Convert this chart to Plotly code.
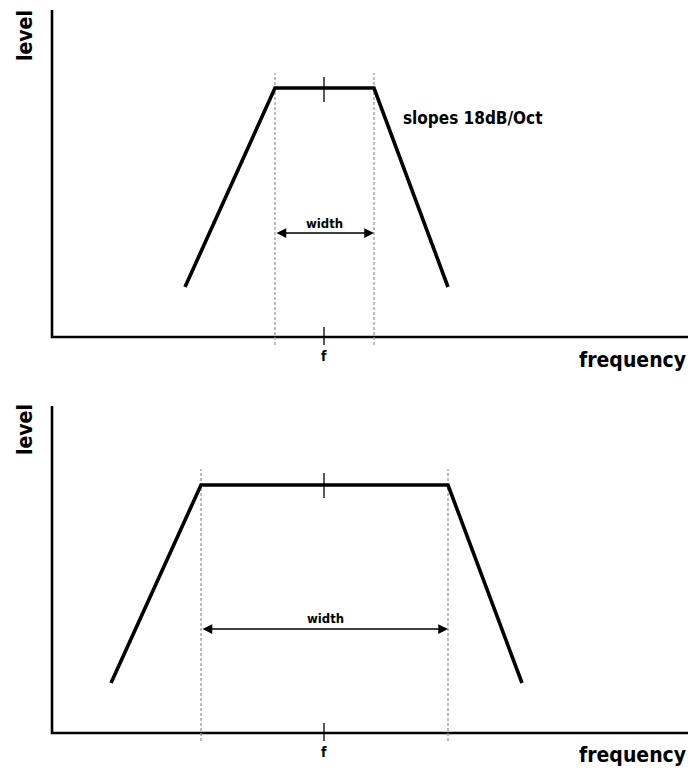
import plotly.graph_objects as go

# ---------------- data (axis units) ----------------
freq_axis_end = 636
level_axis_end = 327
center_freq = 272

narrow_freq = [133, 223, 322, 396]
narrow_level = [50, 249, 249, 50]
narrow_edges = [223, 322]

wide_freq = [59, 149, 396, 470]
wide_level = [50, 248, 248, 50]
wide_edges = [149, 396]

edge_top_level = 264
edge_bottom_level = -8
peak_tick = [235, 260]
axis_tick = [-8, 10]
arrow_level = 104

FONT = "DejaVu Sans Condensed, Liberation Sans Narrow, DejaVu Sans, sans-serif"

# page has an 8px body margin; the figure is sized to fill the rest of the window
OFF = 8
W, H = 688, 771
ML, MR, MT, MB = 39, 4, 1, 34
PW, PH = W - ML - MR, H - MT - MB


def px(p):  # page pixel -> paper x
    return (p - OFF - ML) / PW


def py(p):  # page pixel -> paper y
    return (H - MB - (p - OFF)) / PH


fig = go.Figure()


def panel(xa, ya, freq, level, edges):
    # axes
    fig.add_trace(go.Scatter(x=[0, 0, freq_axis_end], y=[level_axis_end, 0, 0],
                             mode="lines", line=dict(color="black", width=2.6),
                             xaxis=xa, yaxis=ya, hoverinfo="skip", showlegend=False))
    # dashed edges
    ex, ey = [], []
    for e in edges:
        ex += [e, e, None]
        ey += [edge_bottom_level, edge_top_level, None]
    fig.add_trace(go.Scatter(x=ex, y=ey, mode="lines",
                             line=dict(color="#9a9a9a", width=1.3, dash="3px,2px"),
                             xaxis=xa, yaxis=ya, hoverinfo="skip", showlegend=False))
    # centre ticks
    fig.add_trace(go.Scatter(x=[center_freq, center_freq, None, center_freq, center_freq],
                             y=[peak_tick[0], peak_tick[1], None, axis_tick[0], axis_tick[1]],
                             mode="lines", line=dict(color="black", width=1.3),
                             xaxis=xa, yaxis=ya, hoverinfo="skip", showlegend=False))
    # filter shape
    fig.add_trace(go.Scatter(x=freq, y=level, mode="lines",
                             line=dict(color="black", width=3.6),
                             xaxis=xa, yaxis=ya, hoverinfo="skip", showlegend=False))


panel("x", "y", narrow_freq, narrow_level, narrow_edges)
panel("x2", "y2", wide_freq, wide_level, wide_edges)

ax_common = dict(range=[-5, 640], showgrid=False, zeroline=False, showticklabels=False,
                 ticks="", showline=False, fixedrange=True)
ay_common = dict(range=[-12, 328], showgrid=False, zeroline=False, showticklabels=False,
                 ticks="", showline=False, fixedrange=True)

annotations = []


def label(text, x, y, size, xanchor="center", angle=0):
    annotations.append(dict(text=text, x=px(x), y=py(y), xref="paper", yref="paper",
                            xanchor=xanchor, yanchor="middle", showarrow=False,
                            textangle=angle,
                            font=dict(family=FONT, size=size, color="black", weight="bold")))


def arrow(xref, yref, edges):
    annotations.append(dict(text="", x=edges[1], y=arrow_level, ax=edges[0], ay=arrow_level,
                            xref=xref, yref=yref, axref=xref, ayref=yref,
                            showarrow=True, arrowside="end+start",
                            arrowhead=2, startarrowhead=2, arrowsize=1.5, startarrowsize=1.5,
                            arrowwidth=1.3, arrowcolor="black", standoff=0, startstandoff=0))


# top panel labels
label("level", 25, 36, 21, angle=-90)
label("frequency", 688, 360, 21, xanchor="right")
label("f", 324, 356, 14)
label("width", 324, 223, 13)
label("slopes 18dB/Oct", 401, 118, 17, xanchor="left")
arrow("x", "y", narrow_edges)

# bottom panel labels
label("level", 25, 430, 21, angle=-90)
label("frequency", 688, 755, 21, xanchor="right")
label("f", 324, 752, 14)
label("width", 325, 618, 13)
arrow("x2", "y2", wide_edges)

fig.update_layout(
    width=W, height=H,
    margin=dict(l=ML, r=MR, t=MT, b=MB),
    paper_bgcolor="white", plot_bgcolor="white",
    xaxis=dict(domain=[0, 1], anchor="y", **ax_common),
    yaxis=dict(domain=[py(349), 1], anchor="x", **ay_common),
    xaxis2=dict(domain=[0, 1], anchor="y2", **ax_common),
    yaxis2=dict(domain=[0, py(405)], anchor="x2", **ay_common),
    annotations=annotations,
    showlegend=False,
)

fig.write_html("out.html", config={"displayModeBar": False})
